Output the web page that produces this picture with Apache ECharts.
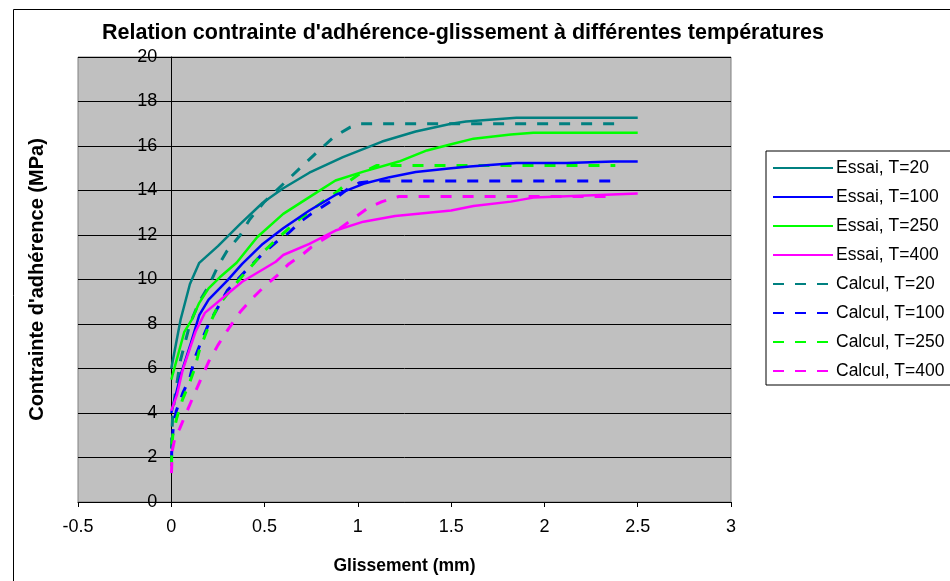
<!DOCTYPE html>
<html>
<head>
<meta charset="utf-8">
<script src="https://cdn.jsdelivr.net/npm/echarts@6/dist/echarts.min.js"></script>
<style>html,body{margin:0;padding:0;background:#fff;}#c{width:950px;height:581px;}</style>
</head>
<body>
<div id="c"></div>
<script>
var seriesNames = ['Essai, T=20','Essai, T=100','Essai, T=250','Essai, T=400','Calcul, T=20','Calcul, T=100','Calcul, T=250','Calcul, T=400'];
var xTicks = [-0.5, 0, 0.5, 1, 1.5, 2, 2.5, 3];
var yTicks = [0, 2, 4, 6, 8, 10, 12, 14, 16, 18, 20];

var essai20 = [[0,6],[0.05,8.2],[0.1,9.8],[0.15,10.75],[0.25,11.5],[0.37,12.5],[0.49,13.45],[0.6,14.1],[0.74,14.8],[0.92,15.5],[1.13,16.2],[1.31,16.65],[1.5,17.0],[1.58,17.1],[1.85,17.27],[2.5,17.27]];
var essai100 = [[0,4.0],[0.05,5.7],[0.1,7.0],[0.15,8.4],[0.2,9.1],[0.3,9.95],[0.38,10.7],[0.49,11.6],[0.6,12.3],[0.74,13.1],[0.88,13.8],[1.03,14.3],[1.17,14.6],[1.31,14.83],[1.5,15.0],[1.6,15.08],[1.85,15.24],[2.12,15.24],[2.37,15.3],[2.5,15.3]];
var essai250 = [[0,5.5],[0.07,7.65],[0.11,8.2],[0.15,8.95],[0.2,9.6],[0.26,10.1],[0.35,10.75],[0.46,11.9],[0.6,12.95],[0.74,13.7],[0.88,14.45],[1.03,14.85],[1.22,15.3],[1.37,15.8],[1.5,16.08],[1.62,16.33],[1.82,16.52],[1.94,16.6],[2.5,16.6]];
var essai400 = [[0,4.1],[0.03,4.8],[0.06,5.9],[0.1,6.9],[0.13,7.65],[0.18,8.5],[0.28,9.2],[0.38,9.9],[0.47,10.35],[0.56,10.8],[0.6,11.1],[0.74,11.6],[0.88,12.2],[1.03,12.6],[1.2,12.85],[1.5,13.1],[1.62,13.3],[1.82,13.5],[1.94,13.68],[2.12,13.74],[2.5,13.86]];
var calcul20 = [[0.001,2.4],[0.003,3.0],[0.008,4.0],[0.02,4.8],[0.05,6.4],[0.1,8.0],[0.15,9.0],[0.2,9.7],[0.25,10.6],[0.3,11.3],[0.37,12.0],[0.42,12.7],[0.5,13.5],[0.62,14.45],[0.74,15.4],[0.87,16.4],[0.96,16.85],[1.01,17.0],[1.75,17.0],[2.38,17.0]];
var calcul100 = [[0.001,1.8],[0.003,2.6],[0.01,3.3],[0.027,4.1],[0.062,4.9],[0.1,5.6],[0.125,6.45],[0.16,7.2],[0.2,8.0],[0.3,9.5],[0.4,10.4],[0.5,11.24],[0.58,11.8],[0.63,12.1],[0.7,12.65],[0.75,12.95],[0.89,13.7],[0.95,14.1],[1.01,14.35],[1.1,14.43],[1.75,14.43],[2.38,14.43]];
var calcul250 = [[0.001,1.6],[0.003,2.4],[0.008,3.0],[0.03,3.8],[0.06,4.6],[0.1,5.4],[0.125,6.0],[0.15,6.8],[0.2,7.9],[0.25,8.8],[0.31,9.45],[0.375,10.1],[0.44,10.7],[0.5,11.3],[0.57,11.85],[0.63,12.3],[0.7,12.8],[0.75,13.1],[0.82,13.55],[0.89,13.95],[0.96,14.46],[1.0,14.7],[1.1,15.12],[1.75,15.12],[2.38,15.12]];
var calcul400 = [[0.001,1.3],[0.005,2.3],[0.02,2.9],[0.045,3.3],[0.08,4.0],[0.116,4.7],[0.16,5.55],[0.2,6.3],[0.25,7.05],[0.3,7.7],[0.37,8.55],[0.44,9.2],[0.5,9.7],[0.57,10.2],[0.63,10.7],[0.7,11.1],[0.75,11.45],[0.88,12.15],[0.97,12.7],[1.06,13.25],[1.13,13.5],[1.22,13.73],[1.75,13.73],[2.38,13.73]];

var colors = ['#008080','#0000FF','#00FF00','#FF00FF','#008080','#0000FF','#00FF00','#FF00FF'];
var dataList = [essai20, essai100, essai250, essai400, calcul20, calcul100, calcul250, calcul400];

var FONT = '"Liberation Sans", Arial, sans-serif';

var series = dataList.map(function(d, i){
  var dashed = i >= 4;
  return {
    name: seriesNames[i],
    type: 'line',
    data: d,
    symbol: 'none',
    smooth: false,
    z: dashed ? 2 : 3,
    lineStyle: {
      color: colors[i],
      width: dashed ? 3 : 2.5,
      type: dashed ? [11, 11] : 'solid'
    },
    itemStyle: { color: colors[i] }
  };
});

var GRID_L = 78, GRID_R = 219, PLOT_W = 950 - GRID_L - GRID_R;
// shift the y axis so that it sits on x = 0
var yShift = -PLOT_W * (0 - xTicks[0]) / (xTicks[xTicks.length-1] - xTicks[0]);

var chart = echarts.init(document.getElementById('c'), null, {renderer: 'canvas'});
chart.setOption({
  animation: false,
  backgroundColor: '#ffffff',
  title: {
    text: "Relation contrainte d'adhérence-glissement à différentes températures",
    left: 458, top: 17, textAlign: 'center',
    textStyle: { fontFamily: FONT, fontWeight: 'bold', fontSize: 21.5, color: '#000' }
  },
  graphic: [{
    type: 'rect', left: 11, top: 7, silent: true,
    shape: { x: 0, y: 0, width: 937, height: 600 },
    style: { fill: 'none', stroke: '#000', lineWidth: 1 }
  }],
  legend: {
    orient: 'vertical',
    left: 766, top: 151,
    padding: [8, 10, 5, 6],
    itemWidth: 60, itemHeight: 16, itemGap: 11,
    backgroundColor: '#ffffff',
    borderColor: '#000', borderWidth: 1,
    itemStyle: { opacity: 0 },
    textStyle: { fontFamily: FONT, fontSize: 17.5, lineHeight: 16, color: '#000', padding: [0,0,0,-2] },
    data: seriesNames
  },
  grid: {
    left: GRID_L, right: GRID_R, top: 57, bottom: 79,
    outerBoundsMode: 'none', containLabel: false,
    show: true, backgroundColor: '#C0C0C0', borderColor: '#808080', borderWidth: 1
  },
  xAxis: {
    type: 'value', min: xTicks[0], max: xTicks[xTicks.length-1], interval: 0.5,
    name: 'Glissement (mm)', nameLocation: 'middle', nameGap: 55,
    nameTextStyle: { fontFamily: FONT, fontWeight: 'bold', fontSize: 17.5, color: '#000' },
    axisLine: { onZero: false, lineStyle: { color: '#000', width: 1 } },
    axisTick: { show: true, length: 5, lineStyle: { color: '#000' } },
    axisLabel: { fontFamily: FONT, fontSize: 18, color: '#000', margin: 16,
      formatter: function(v){ return String(v); } },
    splitLine: { show: false }
  },
  yAxis: {
    type: 'value', min: yTicks[0], max: yTicks[yTicks.length-1], interval: 2,
    offset: yShift,
    name: "Contrainte d'adhérence (MPa)", nameLocation: 'middle', nameGap: 124,
    nameTextStyle: { fontFamily: FONT, fontWeight: 'bold', fontSize: 20, color: '#000' },
    axisLine: { onZero: false, lineStyle: { color: '#000', width: 1 } },
    axisTick: { show: true, length: 6, lineStyle: { color: '#000' } },
    axisLabel: { fontFamily: FONT, fontSize: 18, color: '#000', margin: 14 },
    splitLine: { show: true, lineStyle: { color: '#000', width: 1 } }
  },
  series: series
});
</script>
</body>
</html>
